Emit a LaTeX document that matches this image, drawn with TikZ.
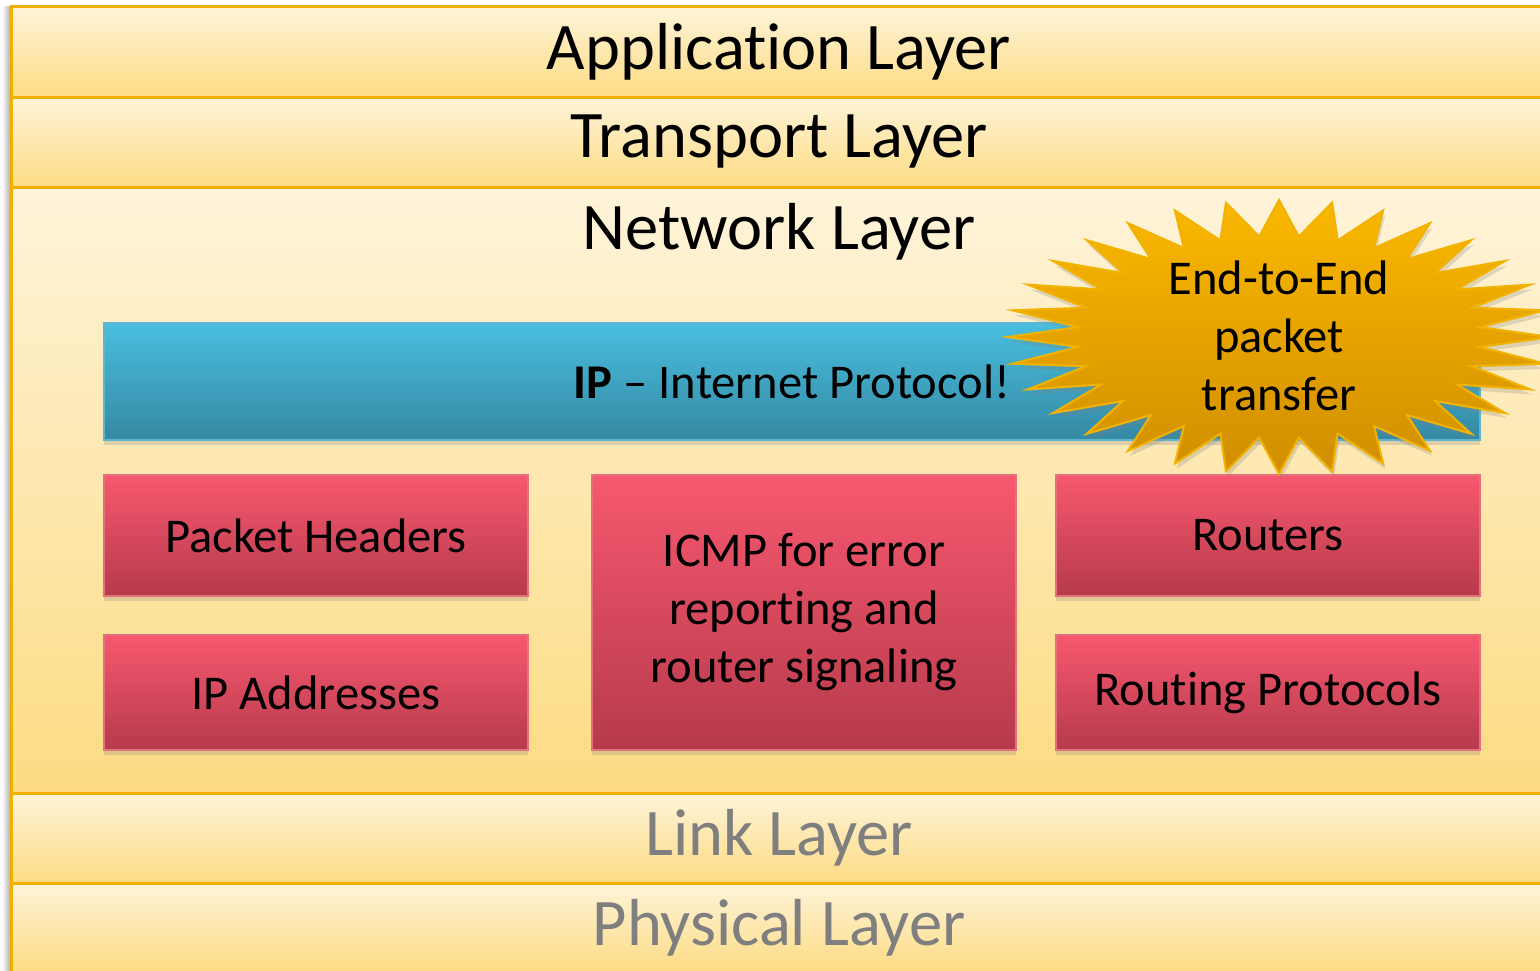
\documentclass[tikz,border=0pt]{standalone}
\usepackage{fontspec}
\setmainfont[Ligatures={NoCommon}]{Carlito}
\usetikzlibrary{positioning, shadows}

\definecolor{bandtop}{HTML}{FFF4DA}
\definecolor{bandbot}{HTML}{FCDB82}
\definecolor{bandline}{HTML}{F0B000}
\definecolor{layergray}{HTML}{7F7F7F}
\definecolor{iptop}{HTML}{49BEDF}
\definecolor{ipbot}{HTML}{3589A3}
\definecolor{ipline}{HTML}{5DB6CE}
\definecolor{redtop}{HTML}{F7586F}
\definecolor{redbot}{HTML}{B63A4B}
\definecolor{redline}{HTML}{E4707C}
\definecolor{startop}{HTML}{FBB800}
\definecolor{starbot}{HTML}{D08E00}
\definecolor{starline}{HTML}{F2B300}

\newcommand\layerfont{\fontsize{66.5}{80}\selectfont}
\newcommand\boxfont{\fontsize{48.5}{58}\selectfont}

\tikzset{
    layer/.style={
        rectangle, draw=bandline, line width=3pt,
        top color=bandtop, bottom color=bandbot,
        minimum width=1536pt, inner sep=0pt, outer sep=0pt,
        anchor=north west, font=\layerfont
    },
    ipbar/.style={
        rectangle, draw=ipline, line width=2pt,
        top color=iptop, bottom color=ipbot,
        minimum width=1376pt, minimum height=117pt,
        inner sep=0pt, outer sep=0pt, anchor=north west,
        font=\boxfont,
        drop shadow={shadow xshift=0pt, shadow yshift=-5pt, opacity=0.25}
    },
    topic/.style={
        rectangle, draw=redline, line width=2pt,
        top color=redtop, bottom color=redbot,
        minimum width=424pt, inner sep=0pt, outer sep=0pt,
        align=center, font=\boxfont,
        drop shadow={shadow xshift=0pt, shadow yshift=-5pt, opacity=0.25}
    },
    burst/.style={
        draw=starline, line width=2pt, line join=miter,
        top color=startop, bottom color=starbot,
        drop shadow={shadow xshift=2pt, shadow yshift=-5pt, opacity=0.25}
    }
}

\begin{document}
\begin{tikzpicture}[x=1pt, y=-1pt]
\clip (0,0) rectangle (1540,970);
\fill[white] (0,0) rectangle (1540,970);

% layer stack
\shade[left color=white, right color=black!30] (2,6) rectangle (10,970);
\node[layer, minimum height=91pt] (app) at (11,6) {Application Layer};
\node[layer, minimum height=90pt, below=0pt of app] (trans) {Transport Layer};
\node[layer, minimum height=606pt, below=0pt of trans] (net) {};
\node[layer, minimum height=90pt, below=0pt of net, text=layergray] (link) {Link Layer};
\node[layer, minimum height=90pt, below=0pt of link, text=layergray] (phys) {Physical Layer};
\node[font=\layerfont] (nettitle) at (779,232) {Network Layer};

% IP bar
\node[ipbar] (ip) at (104,323) {\textbf{IP} -- Internet Protocol!};

% network layer topics
\node[topic, minimum height=121pt, below=35pt of ip.south west, anchor=north west] (hdr) {Packet Headers};
\node[topic, minimum height=115pt, below=39pt of hdr.south west, anchor=north west] (addr) {IP Addresses};
\node[topic, minimum height=275pt, right=64pt of hdr.north east, anchor=north west] (icmp) {ICMP for error\\reporting and\\router signaling};
\node[topic, minimum height=121pt, right=40pt of icmp.north east, anchor=north west] (rtr) {Routers};
\node[topic, minimum height=115pt, below=39pt of rtr.south west, anchor=north west] (rproto) {Routing Protocols};

% starburst
\coordinate (c) at (1279,336);
\draw[burst] plot[samples at={0,...,63}, variable=\k]
    ({1279+(237+35*cos(180*\k))*cos(90+5.625*\k)},
     {337-(119+18*cos(180*\k))*sin(90+5.625*\k)}) -- cycle;
\node[align=center, font=\boxfont] (e2e) at (c) {End-to-End\\packet\\transfer};

\end{tikzpicture}
\end{document}
